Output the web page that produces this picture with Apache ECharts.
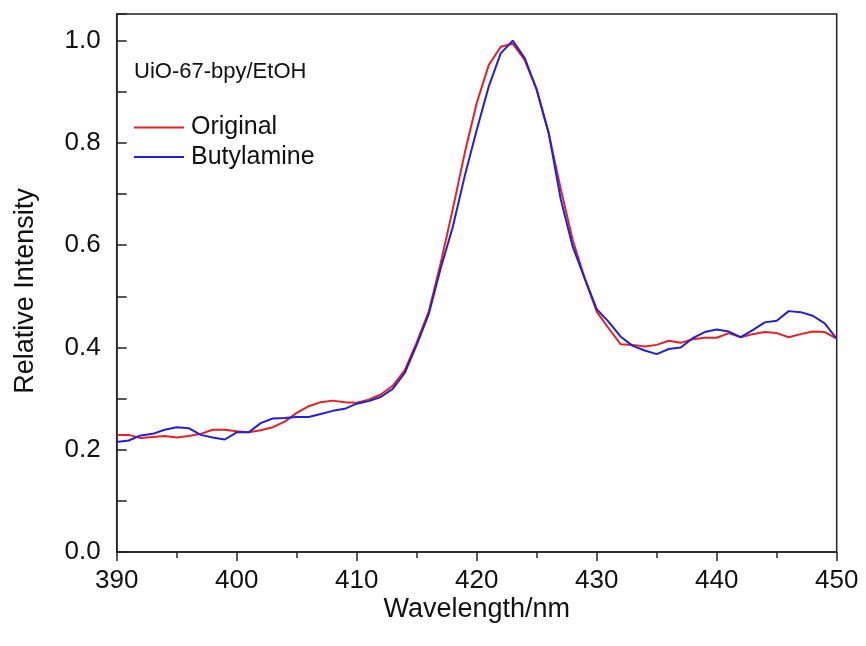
<!DOCTYPE html>
<html>
<head>
<meta charset="utf-8">
<script src="https://cdn.jsdelivr.net/npm/echarts@6/dist/echarts.min.js"></script>
<style>html,body{margin:0;padding:0;background:#fff}#c{width:866px;height:646px}</style>
</head>
<body>
<div id="c"></div>
<script>
const wavelengths = [390,391,392,393,394,395,396,397,398,399,400,401,402,403,404,405,406,407,408,409,410,411,412,413,414,415,416,417,418,419,420,421,422,423,424,425,426,427,428,429,430,431,432,433,434,435,436,437,438,439,440,441,442,443,444,445,446,447,448,449,450];
const original = [0.229,0.229,0.223,0.225,0.227,0.224,0.227,0.231,0.239,0.239,0.236,0.234,0.238,0.244,0.255,0.272,0.285,0.293,0.296,0.293,0.292,0.298,0.308,0.325,0.355,0.41,0.47,0.565,0.67,0.78,0.878,0.952,0.988,0.994,0.962,0.904,0.819,0.71,0.61,0.535,0.47,0.437,0.406,0.405,0.402,0.405,0.413,0.409,0.416,0.419,0.419,0.428,0.42,0.426,0.43,0.428,0.42,0.426,0.431,0.43,0.417];
const butylamine = [0.215,0.218,0.228,0.231,0.239,0.244,0.242,0.229,0.224,0.220,0.234,0.234,0.252,0.261,0.262,0.264,0.264,0.270,0.276,0.280,0.290,0.295,0.303,0.319,0.35,0.405,0.465,0.555,0.635,0.735,0.825,0.91,0.975,1.0,0.966,0.904,0.819,0.69,0.597,0.535,0.475,0.45,0.421,0.403,0.394,0.387,0.397,0.4,0.418,0.43,0.435,0.431,0.42,0.434,0.449,0.452,0.471,0.469,0.462,0.447,0.417];
const seriesNames = ['Original','Butylamine'];
const sampleLabel = 'UiO-67-bpy/EtOH';
const xTitle = 'Wavelength/nm';
const yTitle = 'Relative Intensity';

const font = 'Liberation Sans, Arial, sans-serif';
const chart = echarts.init(document.getElementById('c'), null, {renderer:'canvas'});
const pair = (xs, ys) => xs.map((x,i)=>[x, ys[i]]);
chart.setOption({
  animation:false,
  backgroundColor:'#fff',
  grid:{left:116.7, right:29.3, top:14, bottom:94, show:true, borderColor:'#222', borderWidth:1.5, backgroundColor:'transparent'},
  legend:{
    orient:'vertical', left:128, top:110, itemWidth:50, itemHeight:26, itemGap:4.5,
    itemStyle:{opacity:0},
    textStyle:{fontFamily:font, fontSize:25, color:'#111', padding:[0,0,0,2]},
    data:seriesNames
  },
  graphic:[{type:'text', left:134, top:61, style:{text:sampleLabel, font:'22px ' + font, fill:'#111'}}],
  xAxis:{
    type:'value', min:390, max:450, interval:10,
    name:xTitle, nameLocation:'middle', nameGap:44, nameMoveOverlap:false,
    nameTextStyle:{fontFamily:font, fontSize:27, color:'#111'},
    axisLine:{show:true, lineStyle:{color:'#222', width:1.5}},
    axisTick:{show:true, inside:false, length:9, lineStyle:{color:'#222', width:1.5}},
    minorTick:{show:true, splitNumber:2, length:6, lineStyle:{color:'#222', width:1.5}},
    axisLabel:{fontFamily:font, fontSize:26, color:'#111', margin:16},
    splitLine:{show:false}
  },
  yAxis:{
    type:'value', min:0, max:1.052, interval:0.2,
    name:yTitle, nameLocation:'middle', nameGap:78, nameRotate:90, nameMoveOverlap:false,
    nameTextStyle:{fontFamily:font, fontSize:27, color:'#111', padding:[0,16,0,0]},
    axisLine:{show:true, lineStyle:{color:'#222', width:1.5}},
    axisTick:{show:true, inside:true, length:10, lineStyle:{color:'#222', width:1.5}},
    minorTick:{show:true, splitNumber:2, length:10, lineStyle:{color:'#222', width:1.5}},
    axisLabel:{fontFamily:font, fontSize:26, color:'#111', margin:16, showMaxLabel:false, formatter:v=>v.toFixed(1)},
    splitLine:{show:false}
  },
  series:[
    {name:seriesNames[0], type:'line', data:pair(wavelengths, original), showSymbol:false, symbol:'none', lineStyle:{color:'#ea1f1f', width:2}, itemStyle:{color:'#ea1f1f'}},
    {name:seriesNames[1], type:'line', data:pair(wavelengths, butylamine), showSymbol:false, symbol:'none', lineStyle:{color:'#1f1fdc', width:2}, itemStyle:{color:'#1f1fdc'}}
  ]
});
</script>
</body>
</html>
